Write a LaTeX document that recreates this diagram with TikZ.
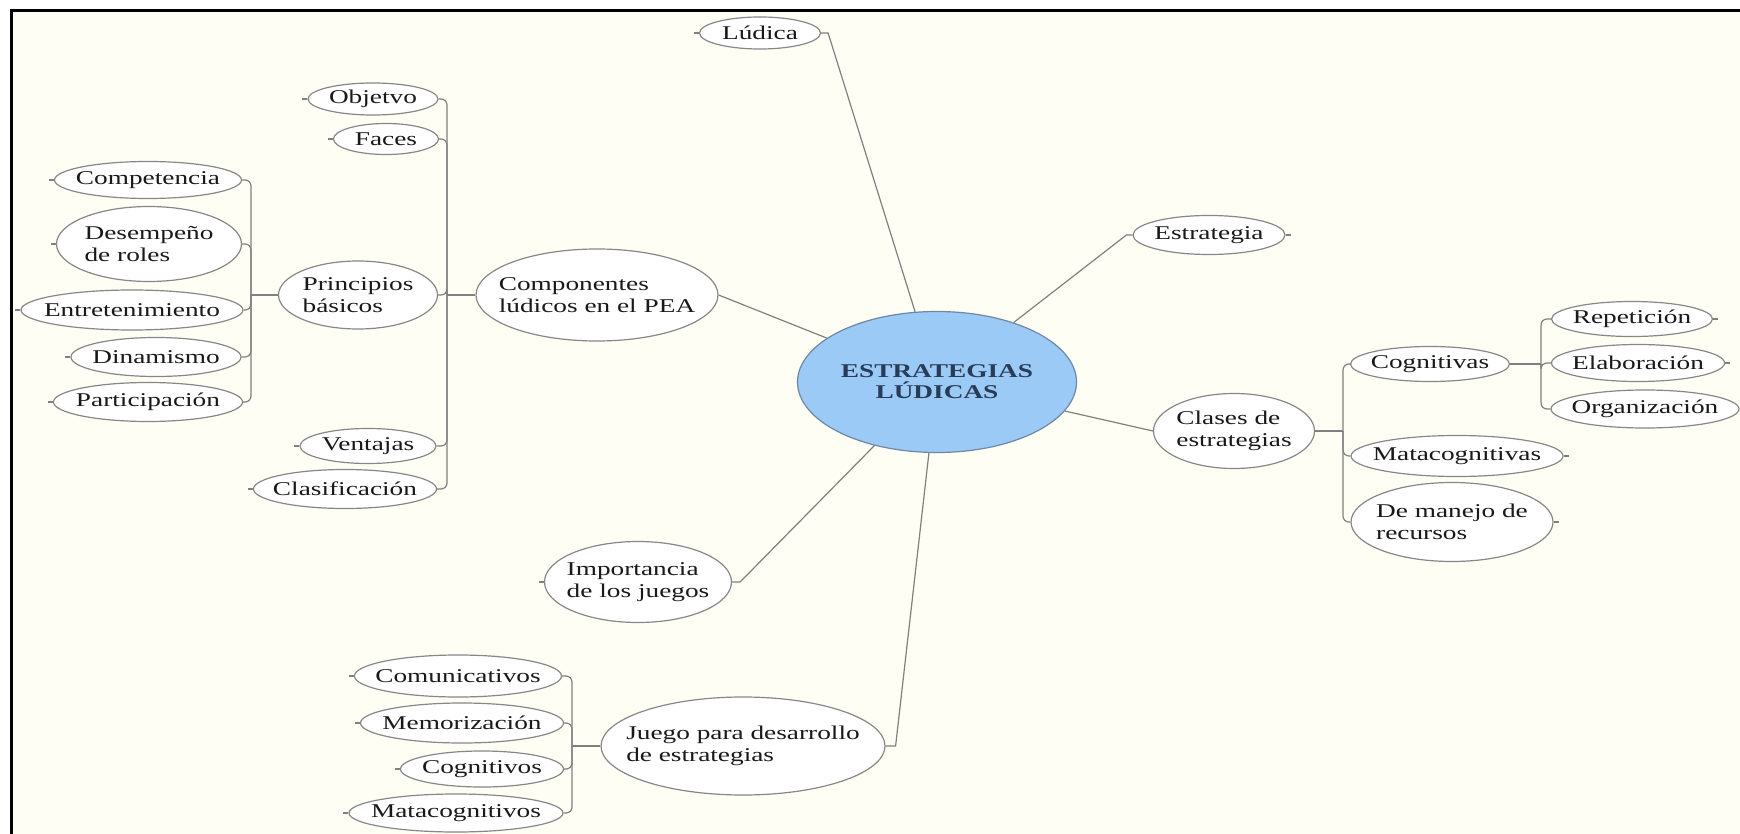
\documentclass[tikz,border=0pt]{standalone}
\usepackage{fontspec}
\setmainfont{Liberation Serif}[FakeStretch=1.4]
\usetikzlibrary{shapes.geometric}
\definecolor{cream}{RGB}{254,254,245}
\definecolor{linegray}{RGB}{128,128,128}
\definecolor{ellgray}{RGB}{135,135,135}
\definecolor{hubfill}{RGB}{156,202,246}
\definecolor{hubtext}{RGB}{40,60,88}
\definecolor{hubdraw}{RGB}{110,135,165}
\tikzset{
  ell/.style={ellipse, draw=ellgray, line width=0.6pt, fill=white, inner sep=0pt},
  txt/.style={inner sep=0pt, align=left, font=\fontsize{9.75pt}{11pt}\selectfont, text=black!90},
  con/.style={draw=linegray, line width=0.6pt},
  bar/.style={con, rounded corners=3pt},
}
\newcommand\ellnode[6]{%
  \node[ell, minimum width=#4*0.5pt, minimum height=#5*0.5pt] (#1) at (#2,#3) {};
  \node[txt] (#1-t) at (#1.center) {#6};
}
\begin{document}
\begin{tikzpicture}[x=0.5pt, y=-0.5pt]
\useasboundingbox (0,0) rectangle (1740,834);
\fill[white] (0,0) rectangle (1740,834);
\fill[cream] (11,10) rectangle (1740,834);
\draw[line width=1.2pt, black] (11.5,834) -- (11.5,10.5) -- (1740,10.5);

% hub
\node[ellipse, fill=hubfill, draw=hubdraw, line width=0.6pt, inner sep=0pt,
      minimum width=139.5pt, minimum height=70.5pt] (hub) at (937,382) {};
\node[txt, align=center, font=\fontsize{9.75pt}{10.5pt}\selectfont\bfseries, text=hubtext] (hub-t) at (hub.center) {ESTRATEGIAS\\LÚDICAS};

% first level
\ellnode{lud}{760}{33}{121}{32}{Lúdica}
\ellnode{comp}{597}{295}{242}{92}{Componentes\\lúdicos en el PEA}
\ellnode{estr}{1209}{235}{152}{39}{Estrategia}
\ellnode{clas}{1234}{431}{161}{75}{Clases de\\estrategias}
\ellnode{imp}{638}{582}{187}{81}{Importancia\\de los juegos}
\ellnode{juego}{743}{746}{284}{98}{Juego para desarrollo\\de estrategias}

% Componentes children
\ellnode{obj}{373}{99}{130}{32}{Objetvo}
\ellnode{faces}{386}{139}{105}{31}{Faces}
\ellnode{princ}{358}{295}{159}{68}{Principios\\básicos}
\ellnode{vent}{368}{446}{136}{35}{Ventajas}
\ellnode{clasif}{345}{489}{183}{39}{Clasificación}

% Principios children
\ellnode{compt}{148}{180}{187}{37}{Competencia}
\ellnode{desemp}{149}{244}{185}{75}{Desempeño\\de roles}
\ellnode{entret}{132}{310}{222}{40}{Entretenimiento}
\ellnode{dinam}{156}{357}{170}{39}{Dinamismo}
\ellnode{partic}{148}{402}{189}{39}{Participación}

% Juego children
\ellnode{comu}{458}{676}{207}{42}{Comunicativos}
\ellnode{memo}{462}{723}{203}{40}{Memorización}
\ellnode{cogv}{482}{769}{163}{36}{Cognitivos}
\ellnode{matav}{456}{813}{214}{38}{Matacognitivos}

% Clases children
\ellnode{cogn}{1430}{364}{159}{35}{Cognitivas}
\ellnode{metac}{1457}{456}{212}{41}{Matacognitivas}
\ellnode{manejo}{1452}{522}{202}{79}{De manejo de\\recursos}

% Cognitivas children
\ellnode{rep}{1632}{319}{161}{35}{Repetición}
\ellnode{elab}{1638}{363}{173}{37}{Elaboración}
\ellnode{org}{1645}{409}{188}{38}{Organización}

% bars
\coordinate (bComp) at (447,295);
\coordinate (bPrin) at (251,295);
\coordinate (bJue) at (572,746);
\coordinate (bCla) at (1343,431);
\coordinate (bCog) at (1541,364);

\draw[con] (bComp) -- (comp.west);
\foreach \n in {obj,faces,princ,vent,clasif} \draw[bar] (\n.east) -| (bComp);
\draw[con] (bPrin) -- (princ.west);
\foreach \n in {compt,desemp,entret,dinam,partic} \draw[bar] (\n.east) -| (bPrin);
\draw[con] (bJue) -- (juego.west);
\foreach \n in {comu,memo,cogv,matav} \draw[bar] (\n.east) -| (bJue);
\draw[con] (clas.east) -- (bCla);
\foreach \n in {cogn,metac,manejo} \draw[bar] (\n.west) -| (bCla);
\draw[con] (cogn.east) -- (bCog);
\foreach \n in {rep,elab,org} \draw[bar] (\n.west) -| (bCog);

% hub connectors
\draw[con] (lud.east) -- ++(7,0) -- (hub);
\draw[con] (estr.west) -- ++(-6,0) -- (hub);
\draw[con] (comp.east) -- (hub);
\draw[con] (clas.west) -- (hub);
\draw[con] (imp.east) -- ++(8,0) -- (hub);
\draw[con] (juego.east) -- ++(10,0) -- (hub);

% leaf ticks
\foreach \n in {lud,obj,faces,compt,desemp,entret,dinam,partic,vent,clasif,comu,memo,cogv,matav,imp}
  \draw[con] (\n.west) -- ++(-5,0);
\foreach \n in {estr,rep,elab,org,metac,manejo}
  \draw[con] (\n.east) -- ++(5,0);
\end{tikzpicture}
\end{document}
